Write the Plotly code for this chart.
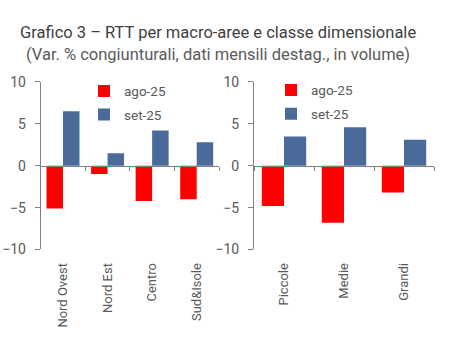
import plotly.graph_objects as go

W, H = 458, 351

aree = ["Nord Ovest", "Nord Est", "Centro", "Sud&Isole"]
aree_ago = [-5.1, -1.0, -4.2, -4.0]
aree_set = [6.5, 1.5, 4.2, 2.8]

classi = ["Piccole", "Medie", "Grandi"]
classi_ago = [-4.8, -6.8, -3.2]
classi_set = [3.5, 4.6, 3.1]

serie = ["ago-25", "set-25"]
titolo = "Grafico 3 – RTT per macro-aree e classe dimensionale"
sottotitolo = "(Var. % congiunturali, dati mensili destag., in volume)"

RED = "#FF0000"
BLUE = "#4A6A9A"
AXC = "#7F7F7F"
TXT = "#595959"
FONT = "Roboto"

fig = go.Figure()
fig.add_bar(x=aree, y=aree_ago, name=serie[0], marker_color=RED, xaxis="x", yaxis="y",
            legend="legend", legendgroup="a1")
fig.add_bar(x=aree, y=aree_set, name=serie[1], marker_color=BLUE, xaxis="x", yaxis="y",
            legend="legend", legendgroup="a2")
fig.add_bar(x=classi, y=classi_ago, name=serie[0], marker_color=RED, xaxis="x2", yaxis="y2",
            legend="legend2", legendgroup="b1")
fig.add_bar(x=classi, y=classi_set, name=serie[1], marker_color=BLUE, xaxis="x2", yaxis="y2",
            legend="legend2", legendgroup="b2")
for t in fig.data:
    t.marker.line.width = 0

def px_x(v):
    return v / W

def px_y(v):
    return 1 - v / H

ydom = [px_y(253), px_y(77.5)]
dom1 = [px_x(40.7), px_x(219)]
dom2 = [px_x(254), px_x(434)]
zero_pos = (ydom[0] + ydom[1]) / 2

yax = dict(range=[-10, 10], tickvals=[-10, -5, 0, 5, 10], showgrid=False, zeroline=False,
           showline=True, linecolor=AXC, linewidth=1, ticks="outside", ticklen=5, tickcolor=AXC,
           tickfont=dict(family=FONT, size=14, color=TXT), ticklabelstandoff=6, domain=ydom)
xlab = dict(showline=False, showgrid=False, zeroline=False, ticks="", tickangle=-90,
            tickfont=dict(family=FONT, size=13, color=TXT), ticklabelstandoff=10)
xzero = dict(showline=True, linecolor=AXC, linewidth=1, ticks="outside", ticklen=4,
             tickcolor=AXC, tickson="boundaries", showticklabels=False, showgrid=False,
             zeroline=False, anchor="free", position=zero_pos)

fig.update_layout(
    width=W, height=H,
    margin=dict(l=0, r=0, t=0, b=0),
    paper_bgcolor="white", plot_bgcolor="white",
    barmode="group", bargap=0.26, bargroupgap=0,
    font=dict(family=FONT, color=TXT),
    annotations=[
        dict(text=titolo, x=218 / W, y=px_y(26), xref="paper", yref="paper",
             xanchor="center", yanchor="middle", showarrow=False,
             font=dict(family=FONT, size=16.5, color="#404040")),
        dict(text=sottotitolo, x=218 / W, y=px_y(49), xref="paper", yref="paper",
             xanchor="center", yanchor="middle", showarrow=False,
             font=dict(family=FONT, size=16.5, color="#5a5a5a")),
    ],
    xaxis=dict(domain=dom1, anchor="y", **xlab),
    yaxis=dict(anchor="x", **yax),
    xaxis2=dict(domain=dom2, anchor="y2", **xlab),
    yaxis2=dict(anchor="x2", **yax),
    xaxis3=dict(overlaying="x", matches="x", **xzero),
    xaxis4=dict(overlaying="x2", matches="x2", **xzero),
    legend=dict(x=px_x(84), y=px_y(71), xanchor="left", yanchor="top",
                bgcolor="rgba(0,0,0,0)", font=dict(family=FONT, size=13.5, color=TXT),
                traceorder="grouped", tracegroupgap=3),
    legend2=dict(x=px_x(271), y=px_y(70), xanchor="left", yanchor="top",
                 bgcolor="rgba(0,0,0,0)", font=dict(family=FONT, size=13.5, color=TXT),
                 traceorder="grouped", tracegroupgap=3),
    showlegend=True,
)
# invisible helper traces that activate the zero-line axes
fig.add_scatter(x=aree, y=[0] * len(aree), xaxis="x3", yaxis="y", mode="markers",
                marker=dict(opacity=0), showlegend=False, hoverinfo="skip")
fig.add_scatter(x=classi, y=[0] * len(classi), xaxis="x4", yaxis="y2", mode="markers",
                marker=dict(opacity=0), showlegend=False, hoverinfo="skip")

fig.write_html("out.html")
